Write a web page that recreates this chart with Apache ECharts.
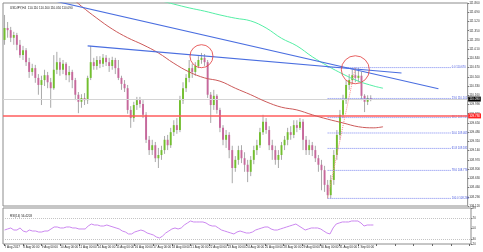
<!DOCTYPE html>
<html><head><meta charset="utf-8">
<script src="https://cdn.jsdelivr.net/npm/echarts@6/dist/echarts.min.js"></script>
<style>html,body{margin:0;padding:0;background:#fff}#c{width:483px;height:252px}</style>
</head><body><div id="c"></div>
<script>
const symbolTitle = 'USDJPY,H4  110.110 110.160 110.050 110.090';
const rsiTitle = 'RSI(14) 56.4203';
const firstLabel = '7 Aug 2017';
const days = ['7 Aug','8 Aug','9 Aug','10 Aug','11 Aug','14 Aug','15 Aug','16 Aug','17 Aug','18 Aug',
  '21 Aug','22 Aug','23 Aug','24 Aug','25 Aug','28 Aug','29 Aug','30 Aug','31 Aug','1 Sep'];
const hours = ['00:00','04:00','08:00','12:00','16:00','20:00'];
const blankSlots = 31;

const openP = [111.18,111.40,111.36,111.22,111.27,111.09,110.90,110.99,110.77,110.59,
110.66,110.48,110.35,110.44,110.53,110.40,110.29,110.63,110.77,110.63,
110.74,110.53,110.59,110.44,110.17,110.04,110.11,110.07,110.48,110.77,
110.70,110.81,110.74,110.85,110.77,110.70,110.81,110.66,110.48,110.37,
110.29,109.89,109.74,109.98,110.07,110.00,109.80,109.34,109.15,109.24,
109.00,109.06,109.15,109.34,109.24,109.48,109.61,109.52,110.07,110.29,
110.48,110.66,110.59,110.70,110.81,110.85,110.77,110.17,109.98,110.15,
109.89,109.56,109.34,109.43,109.15,108.82,108.97,109.15,109.00,108.88,
108.75,108.97,109.15,109.24,109.48,109.67,109.52,109.24,109.15,108.97,
109.06,109.24,109.34,109.48,109.43,109.61,109.56,109.67,109.34,109.15,
109.24,109.15,109.00,108.88,108.78,108.51,108.32,108.60,109.06,109.43,
109.80,110.07,110.35,110.44,110.53,110.48,110.52,110.15,110.04,110.11];
const closeP = [111.40,111.36,111.22,111.27,111.09,110.90,110.99,110.77,110.59,110.66,
110.48,110.35,110.44,110.53,110.40,110.29,110.63,110.77,110.63,110.74,
110.53,110.59,110.44,110.17,110.04,110.11,110.07,110.48,110.77,110.70,
110.81,110.74,110.85,110.77,110.70,110.81,110.66,110.48,110.37,110.29,
109.89,109.74,109.98,110.07,110.00,109.80,109.34,109.15,109.24,109.00,
109.06,109.15,109.34,109.24,109.48,109.61,109.52,110.07,110.29,110.48,
110.66,110.59,110.70,110.81,110.85,110.77,110.17,109.98,110.15,109.89,
109.56,109.34,109.43,109.15,108.82,108.97,109.15,109.00,108.88,108.75,
108.97,109.15,109.24,109.48,109.67,109.52,109.24,109.15,108.97,109.06,
109.24,109.34,109.48,109.43,109.61,109.56,109.67,109.34,109.15,109.24,
109.15,109.00,108.88,108.78,108.51,108.32,108.60,109.06,109.43,109.80,
110.07,110.35,110.44,110.53,110.48,110.52,110.15,110.04,110.11,110.09];
const lowP = [111.09,111.22,111.14,111.09,110.99,110.85,110.81,110.70,110.48,110.52,
110.39,110.17,109.98,110.33,110.29,109.93,110.26,110.55,110.52,110.55,
110.44,110.40,110.29,110.07,109.83,109.93,109.98,110.00,110.44,110.63,
110.63,110.66,110.68,110.70,110.59,110.63,110.55,110.44,110.26,110.22,
109.82,109.56,109.67,109.89,109.93,109.74,109.28,109.06,109.06,108.93,
108.82,108.97,109.08,109.15,109.19,109.41,109.45,109.48,110.00,110.22,
110.40,110.48,110.52,110.66,110.74,110.70,110.11,109.65,109.89,109.82,
109.48,109.24,109.19,109.00,108.54,108.75,108.88,108.91,108.75,108.56,
108.67,108.89,109.06,109.19,109.43,109.45,109.15,108.97,108.88,108.82,
108.97,109.15,109.24,109.34,109.37,109.48,109.52,109.15,109.06,109.06,
109.04,108.93,108.75,108.41,108.38,108.26,108.26,108.51,108.97,109.34,
109.74,110.00,110.26,110.37,110.40,110.40,110.07,109.85,109.98,110.05];
const highP = [111.64,111.51,111.42,111.33,111.31,111.18,111.07,111.03,110.85,110.74,
110.72,110.55,110.52,110.63,110.59,110.48,110.90,110.96,110.85,110.81,
110.77,110.70,110.63,110.48,110.22,110.18,110.20,110.52,111.07,110.85,
110.88,110.88,110.92,110.90,110.85,110.87,110.85,110.81,110.52,110.44,
110.35,109.96,110.04,110.13,110.13,110.07,109.85,109.41,109.34,109.30,
109.19,109.23,109.41,109.43,109.56,109.70,109.74,110.15,110.40,110.55,
110.81,110.74,110.77,110.88,110.94,110.92,110.81,110.22,110.26,110.18,
109.93,109.61,109.52,109.48,109.23,109.04,109.23,109.24,109.11,108.97,
109.04,109.23,109.34,109.56,109.80,109.74,109.59,109.34,109.23,109.15,
109.30,109.41,109.56,109.59,109.70,109.70,109.74,109.72,109.41,109.34,
109.30,109.23,109.06,108.97,108.86,108.60,108.69,109.15,109.52,109.89,
110.17,110.44,110.55,110.63,110.67,110.66,110.59,110.18,110.16,110.16];

const rsiVals = [46.8,48.8,50.7,46.8,46.8,50.7,44.9,43.0,46.8,44.9,
44.9,43.0,43.0,44.9,44.9,48.8,52.6,52.6,50.7,50.7,
52.6,52.6,50.7,50.7,48.8,48.8,48.8,54.5,58.3,56.4,
56.4,54.5,54.5,56.4,54.5,52.6,50.7,48.8,44.9,43.0,
39.2,39.2,43.0,44.9,46.8,44.9,41.1,39.2,37.3,33.4,
31.5,35.3,41.1,44.9,48.8,50.7,48.8,50.7,56.4,60.3,
64.1,62.2,62.2,62.2,62.2,60.3,56.4,54.5,54.5,50.7,
46.8,44.9,43.0,41.1,39.2,43.0,44.9,43.0,41.1,41.1,
43.0,46.8,48.8,50.7,52.6,52.6,48.8,46.8,46.8,48.8,
50.7,52.6,54.5,56.4,58.3,54.5,50.7,46.8,48.8,50.7,
50.7,50.7,48.8,44.9,41.1,39.2,50.7,58.3,60.3,62.2,
62.2,62.2,64.1,64.1,64.1,60.3,54.5,56.4,56.4,56.42];

const maGreenIdx = [48,51,55,60,65,70,75,80,85,90,95,100,105,110,115,120,123];
const maGreenVal = [111.96,111.90,111.84,111.77,111.71,111.64,111.58,111.53,111.40,111.21,111.07,110.87,110.70,110.55,110.42,110.33,110.29];
const maRedIdx = [22,25,30,35,40,45,50,55,60,65,70,75,80,85,90,95,100,105,110,115,120,123];
const maRedVal = [111.95,111.80,111.58,111.38,111.22,111.09,110.94,110.75,110.59,110.48,110.42,110.29,110.17,110.04,109.94,109.89,109.80,109.72,109.65,109.58,109.56,109.58];

const trend1 = [[16,111.90],[141,110.28]];
const trend2 = [[27,111.07],[129,110.57]];
const fibTrend = [[105,108.26],[114,110.67]];
const fibStart = 105, fibEnd = 145;
const fibPct = ['0.0','23.6','38.2','50.0','61.8','78.6','100.0'];
const fibPrice = [110.670,110.101,109.749,109.465,109.181,108.776,108.260];
const supportLevel = 109.78;
const bidPrice = 110.09;
const circleIdx = [64,114];
const circleVal = [110.88,110.63];
const circleSize = [23,28];

const priceTicks = [108.12,108.29,108.46,108.63,108.80,108.97,109.14,109.31,109.48,109.65,109.82,109.99,110.16,110.33,110.50,110.67,110.84,111.01,111.18,111.35,111.52,111.69,111.86];
const rsiTicks = [20,30,50,70,89];
const rsiLevels = [70,30];

const cats = [];
days.forEach(d => hours.forEach(h => cats.push(d + ' ' + h)));
for (let k = 0; k < blankSlots; k++) cats.push('');

const BULL = '#72bf2e', BEAR = '#c7689c', WICK = '#a9a9a9';
const candleData = openP.map((o, i) => [i, o, closeP[i], lowP[i], highP[i]]);

function renderCandle(params, api) {
  const i = api.value(0);
  const o = api.value(1), c = api.value(2);
  const po = api.coord([i, o]), pc = api.coord([i, c]);
  const pl = api.coord([i, api.value(3)]), ph = api.coord([i, api.value(4)]);
  const bw = api.size([1, 0])[0] * 0.62;
  const top = Math.min(po[1], pc[1]), bot = Math.max(po[1], pc[1]);
  return { type: 'group', children: [
    { type: 'line', shape: { x1: ph[0], y1: ph[1], x2: pl[0], y2: pl[1] }, style: { stroke: WICK, lineWidth: 1 } },
    { type: 'rect', shape: { x: po[0] - bw / 2, y: top, width: bw, height: Math.max(bot - top, 1) }, style: { fill: c >= o ? BULL : BEAR } }
  ]};
}

const fibSeries = fibPct.map((p, k) => ({
  type: 'line', xAxisIndex: 0, yAxisIndex: 0, symbol: 'none', silent: true, z: 4,
  data: [[fibStart, fibPrice[k]], [fibEnd, fibPrice[k]]],
  lineStyle: { color: '#7a86f0', width: 1, type: [1, 1] },
  endLabel: { show: true, formatter: p + ' ' + fibPrice[k].toFixed(3), fontSize: 2.7, color: '#4455dd', distance: 1 }
}));

const chart = echarts.init(document.getElementById('c'), null, { renderer: 'canvas' });
chart.setOption({
  animation: false,
  backgroundColor: '#fff',
  textStyle: { fontFamily: 'Liberation Sans' },
  title: [
    { text: symbolTitle, left: 5, top: 2, textStyle: { fontSize: 3, fontWeight: 'normal', color: '#222' } },
    { text: rsiTitle, left: 5, top: 210, textStyle: { fontSize: 3, fontWeight: 'normal', color: '#222' } }
  ],
  grid: [
    { left: 3, right: 12, top: 3, bottom: 46, show: true, borderColor: '#8c8c8c', borderWidth: 1 },
    { left: 3, right: 12, top: 208, bottom: 8, show: true, borderColor: '#8c8c8c', borderWidth: 1 }
  ],
  xAxis: [
    { type: 'category', gridIndex: 0, data: cats, boundaryGap: true,
      axisLine: { show: false }, axisTick: { show: false }, axisLabel: { show: false }, splitLine: { show: false } },
    { type: 'category', gridIndex: 1, data: cats, boundaryGap: true,
      axisLine: { show: false },
      axisTick: { show: true, interval: 5, alignWithLabel: true, length: 2, lineStyle: { color: '#666' } },
      axisLabel: { interval: 5, fontSize: 3, color: '#222', align: 'left', margin: 2,
        formatter: (v, idx) => idx === 0 ? firstLabel : v },
      splitLine: { show: false } }
  ],
  yAxis: [
    { type: 'value', gridIndex: 0, position: 'right', min: 108.12, max: 111.86, interval: 0.17,
      axisLine: { show: false },
      axisTick: { show: true, length: 1.5, customValues: priceTicks, lineStyle: { color: '#777' } },
      axisLabel: { customValues: priceTicks, fontSize: 3, margin: 1.5, color: '#333', formatter: v => v.toFixed(3) },
      splitLine: { show: false } },
    { type: 'value', gridIndex: 1, position: 'right', min: 20, max: 89,
      axisLine: { show: false },
      axisTick: { show: true, length: 1.5, customValues: rsiTicks, lineStyle: { color: '#777' } },
      axisLabel: { customValues: rsiTicks, fontSize: 3, margin: 1.5, color: '#333' },
      splitLine: { show: false } }
  ],
  series: [
    { type: 'custom', name: 'candles', xAxisIndex: 0, yAxisIndex: 0, renderItem: renderCandle,
      encode: { x: 0, y: [1, 2, 3, 4] }, data: candleData, clip: true, z: 3 },
    { type: 'line', name: 'maGreen', xAxisIndex: 0, yAxisIndex: 0, symbol: 'none', smooth: 0.4, silent: true, z: 5,
      data: maGreenIdx.map((x, k) => [x, maGreenVal[k]]),
      lineStyle: { color: '#55eea5', width: 1 },
      markLine: { symbol: 'none', silent: true, animation: false,
        data: [
          { yAxis: bidPrice, lineStyle: { color: '#d4d4d4', width: 1, type: 'solid' },
            label: { show: true, position: 'end', formatter: bidPrice.toFixed(3), backgroundColor: '#000', color: '#fff', fontSize: 3, padding: [1, 1], distance: 0.5 } },
          { yAxis: supportLevel, lineStyle: { color: '#ff5c5c', width: 1.5, type: 'solid' },
            label: { show: true, position: 'end', formatter: supportLevel.toFixed(3), backgroundColor: '#f22', color: '#fff', fontSize: 3, padding: [1, 1], distance: 0.5 } }
        ] } },
    { type: 'line', name: 'maRed', xAxisIndex: 0, yAxisIndex: 0, symbol: 'none', smooth: 0.4, silent: true, z: 5,
      data: maRedIdx.map((x, k) => [x, maRedVal[k]]),
      lineStyle: { color: '#cc5a5a', width: 1 } },
    { type: 'line', name: 'trend1', xAxisIndex: 0, yAxisIndex: 0, symbol: 'none', silent: true, z: 6,
      data: trend1, lineStyle: { color: '#4a6ee0', width: 1.1 } },
    { type: 'line', name: 'trend2', xAxisIndex: 0, yAxisIndex: 0, symbol: 'none', silent: true, z: 6,
      data: trend2, lineStyle: { color: '#4a6ee0', width: 1.1 } },
    { type: 'line', name: 'fibTrend', xAxisIndex: 0, yAxisIndex: 0, symbol: 'none', silent: true, z: 6,
      data: fibTrend, lineStyle: { color: '#ff8a8a', width: 1, type: [1, 1] } },
    ...fibSeries,
    { type: 'scatter', name: 'circles', xAxisIndex: 0, yAxisIndex: 0, silent: true, z: 7,
      data: circleIdx.map((x, k) => ({ value: [x, circleVal[k]], symbolSize: circleSize[k] })),
      itemStyle: { color: 'rgba(0,0,0,0)', borderColor: '#e23a3a', borderWidth: 1 } },
    { type: 'line', name: 'rsi', xAxisIndex: 1, yAxisIndex: 1, symbol: 'none', silent: true,
      data: rsiVals, lineStyle: { color: '#cc88f0', width: 1 },
      markLine: { symbol: 'none', silent: true, label: { show: false },
        lineStyle: { color: '#c4c4c4', width: 1, type: [1, 1] },
        data: rsiLevels.map(v => ({ yAxis: v })) } }
  ]
});
</script>
</body></html>
